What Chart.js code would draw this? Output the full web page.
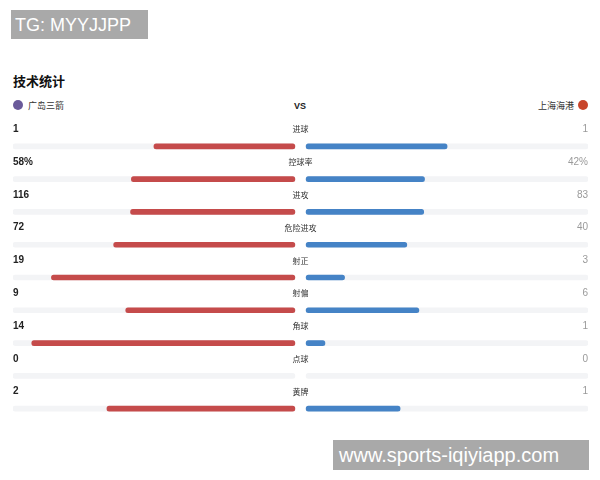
<!DOCTYPE html>
<html>
<head>
<meta charset="utf-8">
<script src="https://cdn.jsdelivr.net/npm/chart.js@4.4.0/dist/chart.umd.min.js"></script>
<style>
body{margin:0;background:#fff;width:600px;height:480px;overflow:hidden;position:relative;font-family:"Liberation Sans",Arial,sans-serif}
#stats{position:absolute;left:0;top:0}
.box{position:absolute;background:#a9a9a9;color:#fff;font-family:"Liberation Sans",Arial,sans-serif;z-index:2}
#tg{left:11px;top:10px;width:137px;height:29px;line-height:30px;font-size:18px;padding-left:4px;box-sizing:border-box}
#site{left:333px;top:440px;width:256px;height:30px;line-height:30px;font-size:20px;padding-left:6px;box-sizing:border-box}
#title{position:absolute;left:13px;top:71px;font:bold 13px "Noto Sans CJK SC";color:#111}
.team{position:absolute;top:100px;font:9px "Noto Sans CJK SC";color:#333;line-height:12px}
#home{left:13px}
#away{right:12px}
.ic{display:inline-block;width:10px;height:10px;border-radius:50%;vertical-align:-1px}
#home .ic{background:#6a5a9a;margin-right:5px}
#away .ic{background:#c8452b;margin-left:4px}
#vs{position:absolute;left:300px;top:100px;transform:translateX(-50%);font:bold 9px "Liberation Sans";color:#222;line-height:12px}
</style>
</head>
<body>
<div id="tg" class="box">TG: MYYJJPP</div>
<div id="title">技术统计</div>
<div id="home" class="team"><span class="ic"></span>广岛三箭</div>
<div id="vs">VS</div>
<div id="away" class="team">上海海港<span class="ic"></span></div>
<canvas id="stats" width="600" height="480"></canvas>
<div id="site" class="box">www.sports-iqiyiapp.com</div>
<script>
var categories = ["进球", "控球率", "进攻", "危险进攻", "射正", "射偏", "角球", "点球", "黄牌"];
var homeValues = [1, 58, 116, 72, 19, 9, 14, 0, 2];
var awayValues = [1, 42, 83, 40, 3, 6, 1, 0, 1];
var homeLabels = ["1", "58%", "116", "72", "19", "9", "14", "0", "2"];
var awayLabels = ["1", "42%", "83", "40", "3", "6", "1", "0", "1"];

// share of each side in a row (no bar when a side has nothing)
var homeShare = homeValues.map(function(v, i){
    var t = v + awayValues[i];
    return v ? v / t : null;
});
var awayShare = awayValues.map(function(v, i){
    var t = v + homeValues[i];
    return v ? v / t : null;
});
var track = categories.map(function(){ return 1; });

var rowText = {
    id: 'rowText',
    afterDatasetsDraw: function(chart){
        var ctx = chart.ctx;
        var area = chart.chartArea;
        var ys = chart.scales.y;
        var mid = (area.left + area.right) / 2;
        ctx.save();
        ctx.textBaseline = 'middle';
        categories.forEach(function(c, i){
            var y = ys.getPixelForValue(i) - 17;
            ctx.font = 'bold 10px "Liberation Sans"';
            ctx.fillStyle = '#222';
            ctx.textAlign = 'left';
            ctx.fillText(homeLabels[i], area.left, y);
            ctx.font = '8px "Noto Sans CJK SC"';
            ctx.fillStyle = '#333';
            ctx.textAlign = 'center';
            ctx.fillText(c, mid, y);
            ctx.font = '10px "Liberation Sans"';
            ctx.fillStyle = '#9a9a9a';
            ctx.textAlign = 'right';
            ctx.fillText(awayLabels[i], area.right, y);
        });
        ctx.restore();
    }
};

var hidden = {ticks: {display: false}, grid: {display: false}, border: {display: false}};

var chart = new Chart(document.getElementById('stats'), {
    type: 'bar',
    data: {
        labels: categories,
        datasets: [
            {label: '广岛三箭', data: homeShare, xAxisID: 'xL', backgroundColor: '#c54b4b', order: 0},
            {label: '上海海港', data: awayShare, xAxisID: 'xR', backgroundColor: '#4583c6', order: 0},
            {label: 'trackL', data: track, xAxisID: 'xL', backgroundColor: '#f3f4f6', order: 1},
            {label: 'trackR', data: track, xAxisID: 'xR', backgroundColor: '#f3f4f6', order: 1}
        ]
    },
    options: {
        indexAxis: 'y',
        responsive: false,
        animation: false,
        layout: {padding: {left: 13, right: 12, top: 130, bottom: 47}},
        datasets: {
            bar: {grouped: false, barThickness: 5, borderRadius: 3, borderSkipped: false}
        },
        scales: {
            y: {type: 'category', display: false, offset: true},
            xL: Object.assign({type: 'linear', position: 'bottom', stack: 'x', stackWeight: 1, reverse: true, min: -0.02, max: 1}, hidden),
            xR: Object.assign({type: 'linear', position: 'bottom', stack: 'x', stackWeight: 1, min: -0.02, max: 1}, hidden)
        },
        plugins: {legend: {display: false}, tooltip: {enabled: false}}
    },
    plugins: [rowText]
});
</script>
</body>
</html>
